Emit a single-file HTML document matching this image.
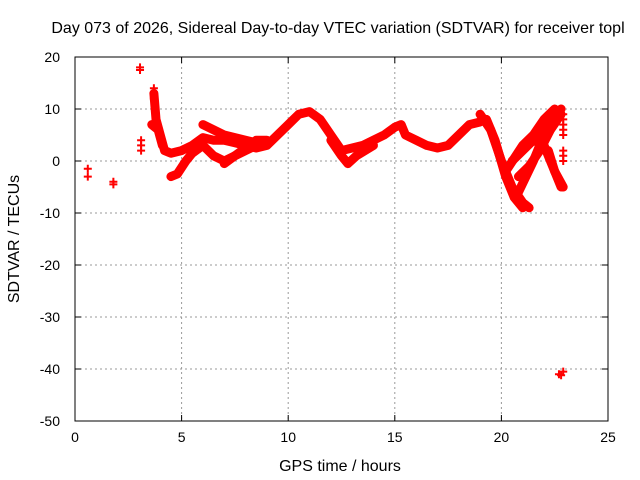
<!DOCTYPE html>
<html><head><meta charset="utf-8"><style>
body{margin:0;background:#fff}
svg{display:block;font-family:"Liberation Sans",sans-serif}
</style></head><body>
<svg id="c" width="640" height="480">
<rect width="640" height="480" fill="#fff"/>
<g id="grid"></g><g id="marks"></g>
<rect x="75" y="57" width="533" height="364" fill="none" stroke="#000" stroke-width="1"/>
<g id="ticks" font-size="14"></g>
<text x="338" y="33" font-size="16" text-anchor="middle">Day 073 of 2026, Sidereal Day-to-day VTEC variation (SDTVAR) for receiver topl</text>
<text x="340" y="471" font-size="16" text-anchor="middle">GPS time / hours</text>
<text transform="translate(19,239) rotate(-90)" font-size="16" text-anchor="middle">SDTVAR / TECUs</text>
</svg>
<script>
const xTicks=[0,5,10,15,20,25];
const yTicks=[20,10,0,-10,-20,-30,-40,-50];
const trackMain=[[3.7,13],[3.8,8],[4.0,5],[4.2,2],[4.5,1.5],[5,2],[5.5,3],[6,4.5],[6.5,4],[7,4],[7.5,3.5],[8,3],[8.5,2.5],[9,3],[9.5,5],[10,7],[10.5,9],[11,9.5],[11.5,8],[12,5],[12.5,2],[13,2.5],[13.5,3],[14,4],[14.5,5],[15,6.5],[15.3,7],[15.5,5],[16,4],[16.5,3],[17,2.5],[17.5,3],[18,5],[18.5,7],[19,7.5]];
const trackLow=[[4.5,-3],[4.8,-2.5],[5.2,0],[5.5,1.5],[6,3],[6.5,1],[7,0],[7.5,1],[8,2],[8.5,3],[9,3.5]];
const trackUp=[[6,7],[6.5,6],[7,5],[7.5,4.5],[8,4],[8.5,3.5]];
const trackMid=[[7,-0.5],[7.5,1],[8,2.5],[8.5,4],[9,4]];
const trackDip=[[12,4],[12.5,1],[12.8,-0.5],[13.2,1],[14,3]];
const trackPre=[[3.6,7],[3.9,6],[4.1,3]];
const eveA=[[19,9],[19.5,6],[20,0],[20.5,-5],[21,-8],[21.3,-9]];
const eveB=[[19.3,8],[19.7,4],[20.2,-3],[20.6,-7],[21,-9]];
const eveC=[[20.2,-2],[21,3],[21.5,5],[22,8],[22.5,10]];
const eveD=[[20.5,0],[21.5,4],[22.2,7],[22.8,10]];
const eveE=[[20.8,-6],[21.5,0],[22,5],[22.5,9]];
const eveF=[[21.5,4],[22,3],[22.4,-1],[22.8,-5]];
const eveG=[[22.2,2],[22.5,-2],[22.9,-5]];
const eveH=[[20.8,-3],[21.3,-1],[21.8,2],[22.3,6],[22.8,9]];
const points=[[0.6,-1.5],[0.6,-3],[1.8,-4.5],[1.8,-4],[3.05,18],[3.05,17.5],[3.1,4],[3.1,3],[3.1,2],[3.7,14],[3.7,13],[3.7,12],[22.7,-41],[22.8,-41.2],[22.9,-40.5],[22.9,9],[22.9,8],[22.9,7],[22.9,6],[22.9,5],[22.9,2],[22.9,1],[22.9,0]];
const X=v=>75+v*533/25, Y=v=>161-v*5.2;
const ns='http://www.w3.org/2000/svg';
const g=document.getElementById('grid'),m=document.getElementById('marks'),t=document.getElementById('ticks');
function mk(tag,a,p){const e=document.createElementNS(ns,tag);for(const k in a)e.setAttribute(k,a[k]);p.appendChild(e);return e;}
xTicks.forEach(v=>{
 if(v>0&&v<25){const l=mk('line',{x1:X(v),x2:X(v),y1:57,y2:421,stroke:'#999','stroke-dasharray':'2,3'},g);
 
 }
 mk('line',{x1:X(v),x2:X(v),y1:421,y2:415,stroke:'#000'},g);mk('line',{x1:X(v),x2:X(v),y1:57,y2:63,stroke:'#000'},g);
 const s=mk('text',{x:X(v),y:442,'text-anchor':'middle'},t);s.textContent=v;
 
 
});
yTicks.forEach(v=>{
 if(v<20&&v>-50){const l=mk('line',{x1:75,x2:608,y1:Y(v),y2:Y(v),stroke:'#999','stroke-dasharray':'2,3'},g);
 
 }
 mk('line',{x1:75,x2:81,y1:Y(v),y2:Y(v),stroke:'#000'},g);mk('line',{x1:602,x2:608,y1:Y(v),y2:Y(v),stroke:'#000'},g);
 const s=mk('text',{x:60,y:Y(v)+5,'text-anchor':'end'},t);s.textContent=v;
 
 
});
[trackMain,trackLow,trackUp,trackMid,trackDip,trackPre,eveA,eveB,eveC,eveD,eveE,eveF,eveG,eveH].forEach(tr=>{
 const p=mk('polyline',{points:tr.map(d=>X(d[0])+','+Y(d[1])).join(' '),fill:'none',stroke:'#f00','stroke-width':9,'stroke-linejoin':'round','stroke-linecap':'round'},m);
 
 
});
points.forEach(d=>{
 const x=X(d[0]),y=Y(d[1]);
 const p=mk('path',{d:`M${x-4},${y}H${x+4}M${x},${y-4}V${y+4}`,stroke:'#f00','stroke-width':2},m);
 
 
});
</script>
</body></html>
